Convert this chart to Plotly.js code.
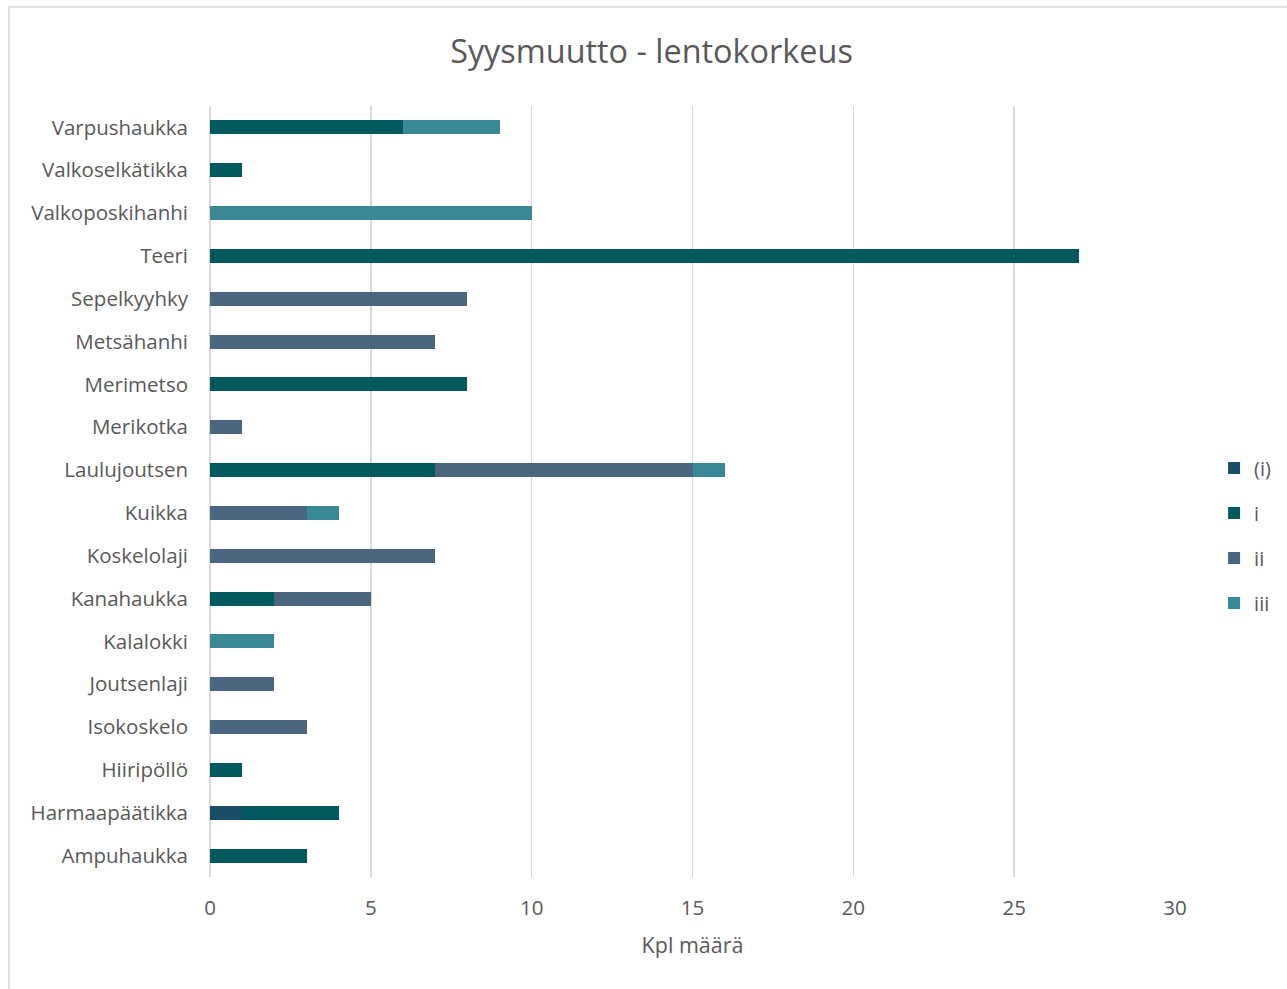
<!DOCTYPE html>
<html>
<head>
<meta charset="utf-8">
<script src="https://cdn.plot.ly/plotly-3.0.1.min.js"></script>
<style>html,body{margin:0;padding:0;background:#fff;}#chart{width:1287px;height:989px;}</style>
</head>
<body>
<div id="chart"></div>
<script>
const categories = ["Varpushaukka","Valkoselkätikka","Valkoposkihanhi","Teeri","Sepelkyyhky","Metsähanhi","Merimetso","Merikotka","Laulujoutsen","Kuikka","Koskelolaji","Kanahaukka","Kalalokki","Joutsenlaji","Isokoskelo","Hiiripöllö","Harmaapäätikka","Ampuhaukka"];
const seriesNames = ["(i)","i","ii","iii"];
const valsParenI = [0,0,0,0,0,0,0,0,0,0,0,0,0,0,0,0,1,0];
const valsI      = [6,1,0,27,0,0,8,0,7,0,0,2,0,0,0,1,3,3];
const valsII     = [0,0,0,0,8,7,0,1,8,3,7,3,0,2,3,0,0,0];
const valsIII    = [3,0,10,0,0,0,0,0,1,1,0,0,2,0,0,0,0,0];
const tickVals = [0,5,10,15,20,25,30];
const colors = ["#1a4d66","#02595f","#4a6580","#3a8896"];
const values = [valsParenI, valsI, valsII, valsIII];

const font = "Open Sans, Noto Sans, sans-serif";
const traces = seriesNames.map((n,k)=>({
  type:"bar", orientation:"h", name:n, y:categories, x:values[k],
  marker:{color:colors[k], line:{width:0}}, legendgroup:n, hoverinfo:"x+y+name"
}));

const layout = {
  width:1287, height:989,
  margin:{l:210, r:112, t:106, b:112, autoexpand:false},
  paper_bgcolor:"#ffffff", plot_bgcolor:"#ffffff",
  barmode:"stack", bargap:0.67,
  font:{family:font, color:"#595959", size:18},
  title:{text:"Syysmuutto - lentokorkeus", x:0.5062, xanchor:"center", y:0.948, yanchor:"middle", font:{family:font, size:32.4, color:"#595959"}},
  xaxis:{range:[0,30], tickvals:tickVals, ticktext:tickVals.map(String), showgrid:true, gridcolor:"#d9d9d9", gridwidth:1.5, zeroline:true, zerolinecolor:"#d9d9d9", zerolinewidth:2, showline:false, ticks:"", ticklen:0, ticklabelstandoff:16, tickfont:{size:20.5, color:"#595959"}, title:{text:"Kpl määrä", font:{size:21.5, color:"#595959"}, standoff:18}, fixedrange:true},
  yaxis:{type:"category", autorange:"reversed", showgrid:false, zeroline:false, showline:false, ticks:"", ticklabelstandoff:21, tickfont:{size:20.5, color:"#595959"}, fixedrange:true},
  legend:{x:1.0405, xanchor:"left", y:0.443, yanchor:"middle", traceorder:"grouped", tracegroupgap:16, font:{size:20, color:"#595959"}, itemwidth:30, bgcolor:"rgba(0,0,0,0)"},
  shapes:[{type:"rect", xref:"paper", yref:"paper", x0:(9-210)/965, x1:(1292-210)/965, y0:(877-994)/771, y1:(877-7)/771, line:{color:"#d9d9d9", width:1.5}, fillcolor:"rgba(0,0,0,0)", layer:"below"}]
};
Plotly.newPlot("chart", traces, layout, {displayModeBar:false, staticPlot:true});
</script>
</body>
</html>
